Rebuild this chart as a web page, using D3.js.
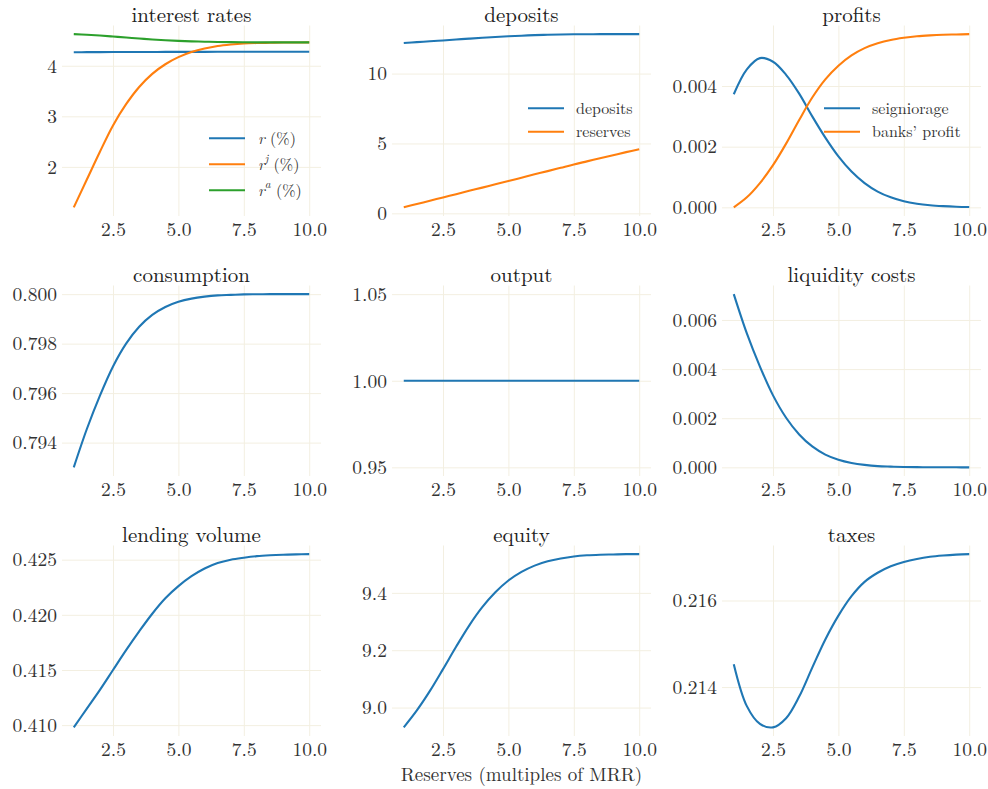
<!DOCTYPE html>
<html>
<head>
<meta charset="UTF-8">
<title>Reserves (multiples of MRR)</title>
<script src="https://cdn.jsdelivr.net/npm/d3@7"></script>
<style>
body { margin: 0; background: #fff; }
svg text { fill: #333; }
.grid line { stroke: #f3efe1; stroke-width: 1; }
.title { fill: #222; }
</style>
</head>
<body>
<svg id="chart" width="988" height="789"></svg>
<script>
// reserves as multiples of the minimum reserve requirement
const xs = [1, 1.5, 2, 2.5, 3, 3.5, 4, 4.5, 5, 5.5, 6, 6.5, 7, 7.5, 8, 8.5, 9, 9.5, 10];

const rateR = [4.268, 4.269, 4.270, 4.271, 4.272, 4.272, 4.273, 4.274, 4.274, 4.275, 4.275, 4.276, 4.276, 4.277, 4.277, 4.277, 4.278, 4.278, 4.278];
const rateJ = [1.20, 1.75, 2.30, 2.82, 3.24, 3.58, 3.84, 4.03, 4.17, 4.27, 4.34, 4.39, 4.42, 4.44, 4.45, 4.455, 4.46, 4.46, 4.462];
const rateA = [4.625, 4.612, 4.597, 4.578, 4.558, 4.538, 4.520, 4.505, 4.493, 4.483, 4.476, 4.471, 4.467, 4.465, 4.463, 4.462, 4.462, 4.462, 4.462];

const deposits = [12.19, 12.25, 12.31, 12.37, 12.44, 12.50, 12.56, 12.62, 12.67, 12.71, 12.75, 12.78, 12.80, 12.81, 12.815, 12.82, 12.82, 12.82, 12.82];
const reserves = [0.43, 0.67, 0.90, 1.14, 1.37, 1.61, 1.84, 2.08, 2.31, 2.55, 2.79, 3.02, 3.26, 3.50, 3.72, 3.94, 4.16, 4.38, 4.59];

const seigniorage = [0.00373, 0.00455, 0.00492, 0.00480, 0.00437, 0.00375, 0.00300, 0.00230, 0.00168, 0.00118, 0.00080, 0.00052, 0.00033, 0.00020, 0.00012, 0.00007, 0.00004, 0.00002, 0.00001];
const banksProfit = [0.00000, 0.00033, 0.00080, 0.00139, 0.00210, 0.00288, 0.00362, 0.00422, 0.00467, 0.00501, 0.00525, 0.00541, 0.00552, 0.00559, 0.00564, 0.00567, 0.00569, 0.00570, 0.00571];

const consumption = [0.79300, 0.79455, 0.79590, 0.79708, 0.79800, 0.79868, 0.79916, 0.79948, 0.79969, 0.79982, 0.79990, 0.79995, 0.79997, 0.79999, 0.799995, 0.8, 0.8, 0.8, 0.8];
const output = [1, 1, 1, 1, 1, 1, 1, 1, 1, 1, 1, 1, 1, 1, 1, 1, 1, 1, 1];
const liquidityCosts = [0.00705, 0.00545, 0.00410, 0.00293, 0.00202, 0.00134, 0.00085, 0.00052, 0.00031, 0.00018, 0.00010, 0.00005, 0.00003, 0.000015, 0.000008, 0.000004, 0.000002, 0.000001, 0];

const lendingVolume = [0.4098, 0.4115, 0.4132, 0.4150, 0.4168, 0.4185, 0.4201, 0.4215, 0.4226, 0.4235, 0.4242, 0.4247, 0.4250, 0.42518, 0.42532, 0.4254, 0.42545, 0.42548, 0.4255];
const equity = [8.931, 8.990, 9.058, 9.134, 9.212, 9.286, 9.350, 9.402, 9.443, 9.473, 9.495, 9.510, 9.520, 9.527, 9.531, 9.533, 9.534, 9.535, 9.535];
const taxes = [0.21453, 0.21356, 0.21315, 0.21307, 0.21328, 0.21378, 0.21445, 0.21510, 0.21565, 0.21610, 0.21643, 0.21664, 0.21679, 0.21689, 0.21696, 0.21701, 0.21704, 0.21706, 0.21707];

const xTicks = [2.5, 5, 7.5, 10];
const titles = ["interest rates", "deposits", "profits", "consumption", "output", "liquidity costs", "lending volume", "equity", "taxes"];
const yTicks = [
    [2, 3, 4],
    [0, 5, 10],
    [0, 0.002, 0.004],
    [0.794, 0.796, 0.798, 0.800],
    [0.95, 1.00, 1.05],
    [0, 0.002, 0.004, 0.006],
    [0.410, 0.415, 0.420, 0.425],
    [9.0, 9.2, 9.4],
    [0.214, 0.216]
];
const yFormats = ["d", "d", ".3f", ".3f", ".2f", ".3f", ".3f", ".1f", ".3f"];
const xLabel = "Reserves (multiples of MRR)";

const blue = "#1f77b4", orange = "#ff7f0e", green = "#2ca02c";

// label parts: [text, italic, superscript]
const panels = [
    {series: [
        {values: rateR, color: blue, label: [["r", true], [" (%)"]]},
        {values: rateJ, color: orange, label: [["r", true], ["j", true, true], [" (%)"]]},
        {values: rateA, color: green, label: [["r", true], ["a", true, true], [" (%)"]]}
     ], legend: {x: 147, y: 112.8, step: 26, tx: 196}},
    {series: [
        {values: deposits, color: blue, label: [["deposits"]]},
        {values: reserves, color: orange, label: [["reserves"]]}
     ], legend: {x: 136, y: 82.8, step: 23.4, tx: 184}},
    {series: [
        {values: seigniorage, color: blue, label: [["seigniorage"]]},
        {values: banksProfit, color: orange, label: [["banks\u2019 profit"]]}
     ], legend: {x: 102, y: 82.8, step: 23.4, tx: 150}},
    {series: [{values: consumption, color: blue}]},
    {series: [{values: output, color: blue}]},
    {series: [{values: liquidityCosts, color: blue}]},
    {series: [{values: lendingVolume, color: blue}]},
    {series: [{values: equity, color: blue}]},
    {series: [{values: taxes, color: blue}]}
];

const colLeft = [62, 392, 722];
const rowTop = [25.5, 285.5, 545.5];
const pw = 259, ph = 190.5;
const fontFamily = '"Latin Modern Roman", "Liberation Serif", serif';

const svg = d3.select("#chart").attr("font-family", fontFamily);

panels.forEach((p, i) => {
    const g = svg.append("g")
        .attr("transform", `translate(${colLeft[i % 3]},${rowTop[Math.floor(i / 3)]})`);

    // matplotlib style 5% margins
    const x = d3.scaleLinear().domain([0.55, 10.45]).range([0, pw]);
    let ext = d3.extent(p.series.flatMap(s => s.values));
    if (ext[0] === ext[1]) ext = [ext[0] * 0.95, ext[1] * 1.05];
    const pad = (ext[1] - ext[0]) * 0.05;
    const y = d3.scaleLinear().domain([ext[0] - pad, ext[1] + pad]).range([ph, 0]);

    g.append("g")
        .attr("class", "grid")
        .call(d3.axisLeft(y).tickValues(yTicks[i]).tickSize(-pw).tickPadding(5)
            .tickFormat(d3.format(yFormats[i])))
        .attr("font-size", 19.5)
        .attr("font-family", fontFamily)
        .call(a => a.select(".domain").remove());

    g.append("g")
        .attr("class", "grid")
        .attr("transform", `translate(0,${ph})`)
        .call(d3.axisBottom(x).tickValues(xTicks).tickSize(-ph).tickPadding(6)
            .tickFormat(d3.format(".1f")))
        .attr("font-size", 19.5)
        .attr("font-family", fontFamily)
        .call(a => a.select(".domain").remove());

    const line = d3.line()
        .x((d, k) => x(xs[k]))
        .y(d => y(d))
        .curve(d3.curveCatmullRom.alpha(0.5));

    p.series.forEach(s => {
        g.append("path")
            .attr("d", line(s.values))
            .attr("fill", "none")
            .attr("stroke", s.color)
            .attr("stroke-width", 2.1);
    });

    g.append("text")
        .attr("class", "title")
        .attr("x", pw / 2)
        .attr("y", -4)
        .attr("text-anchor", "middle")
        .attr("font-family", fontFamily)
        .attr("font-size", 21)
        .text(titles[i]);

    if (p.legend) {
        const lg = p.legend;
        p.series.forEach((s, k) => {
            const yy = lg.y + k * lg.step;
            g.append("line")
                .attr("x1", lg.x).attr("x2", lg.x + 36)
                .attr("y1", yy).attr("y2", yy)
                .attr("stroke", s.color)
                .attr("stroke-width", 2.1);
            const t = g.append("text")
                .attr("x", lg.tx)
                .attr("y", yy)
                .attr("dy", "0.35em")
                .attr("font-family", fontFamily)
                .attr("font-size", 16);
            s.label.forEach(part => {
                const ts = t.append("tspan").text(part[0]);
                if (part[1]) ts.attr("font-style", "italic");
                if (part[2]) ts.attr("baseline-shift", "super").attr("font-size", 11.5);
            });
        });
    }
});

svg.append("text")
    .attr("x", colLeft[1] + pw / 2)
    .attr("y", 781)
    .attr("text-anchor", "middle")
    .attr("font-family", fontFamily)
    .attr("font-size", 19)
    .text(xLabel);
</script>
</body>
</html>
